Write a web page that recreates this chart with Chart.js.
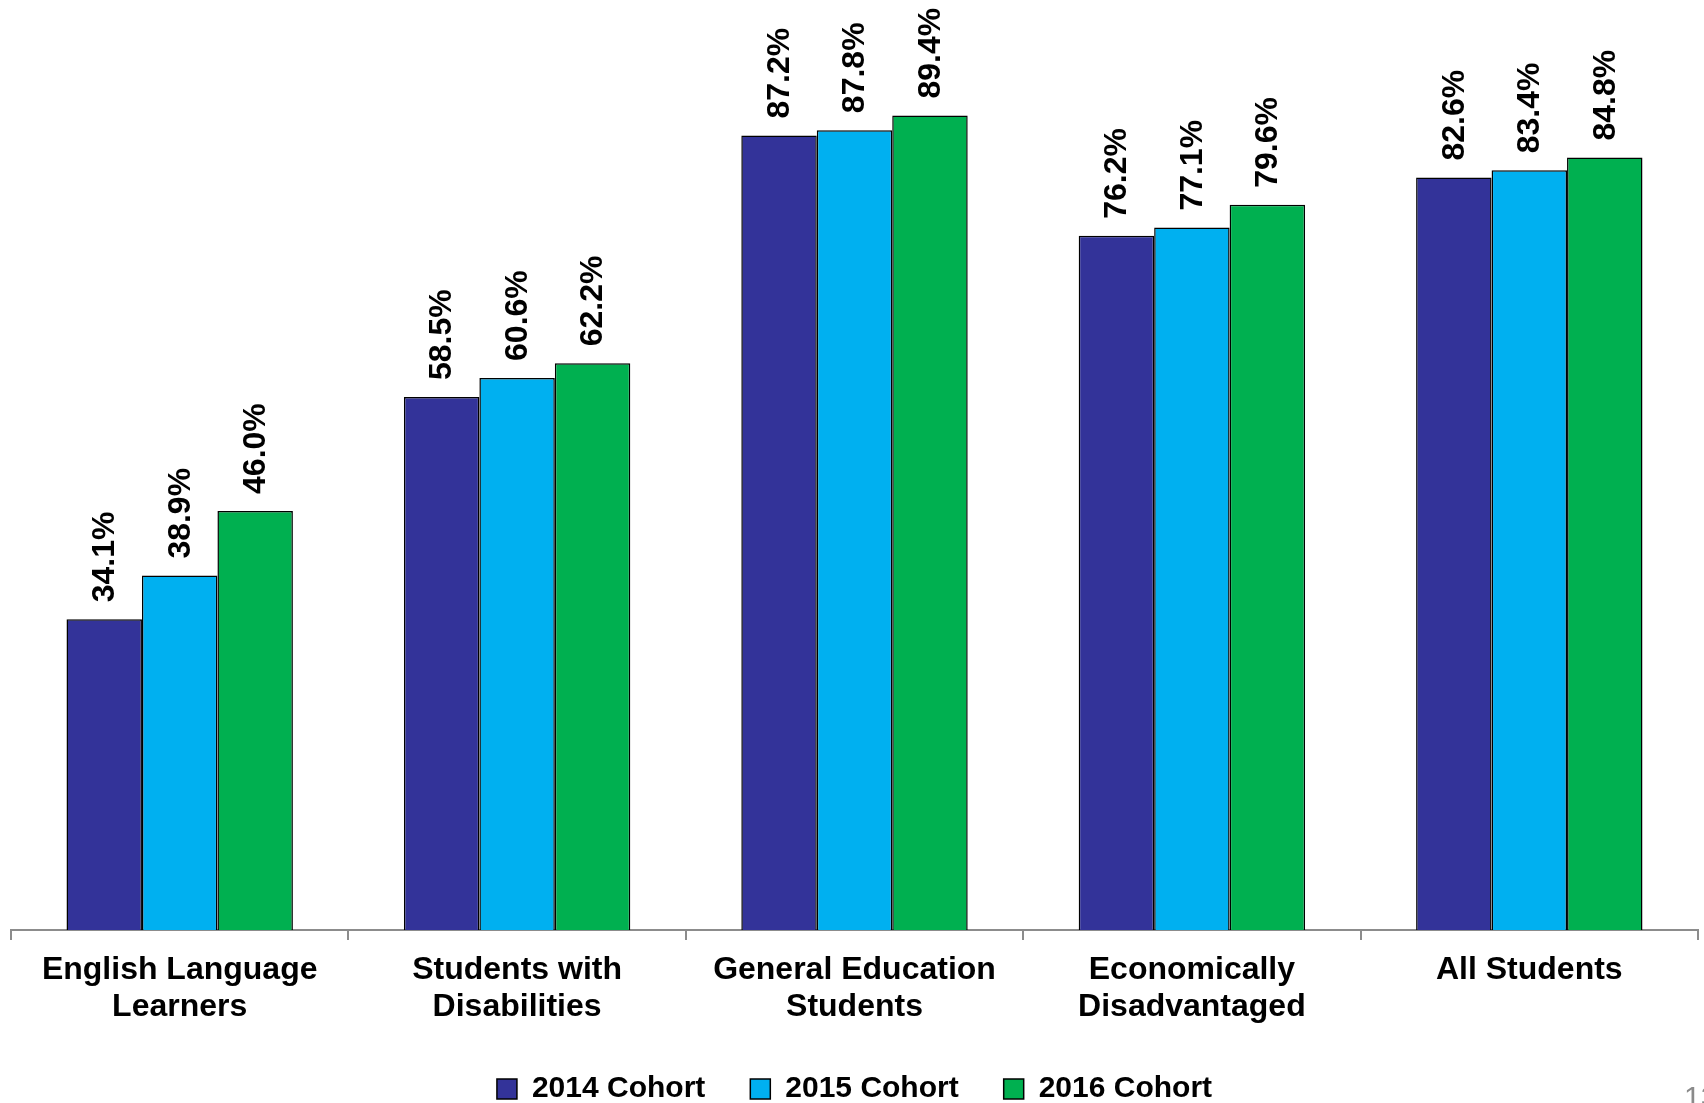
<!DOCTYPE html>
<html>
<head>
<meta charset="utf-8">
<script src="https://cdn.jsdelivr.net/npm/chart.js@4"></script>
<style>
  html, body { margin: 0; padding: 0; background: #fff; overflow: hidden; }
  #wrap { position: relative; width: 1704px; height: 1103px; overflow: hidden; }
  #pg { position: absolute; left: 1684px; top: 1080px; font: 30px 'Liberation Sans', Arial, sans-serif; color: #8a8a8a; }
</style>
</head>
<body>
<div id="wrap">
<canvas id="c" width="1704" height="1103"></canvas>
<div id="pg">13</div>
</div>
<script>
const categories = [
  ['English Language', 'Learners'],
  ['Students with', 'Disabilities'],
  ['General Education', 'Students'],
  ['Economically', 'Disadvantaged'],
  ['All Students']
];
const seriesNames = ['2014 Cohort', '2015 Cohort', '2016 Cohort'];
const cohort2014 = [34.1, 58.5, 87.2, 76.2, 82.6];
const cohort2015 = [38.9, 60.6, 87.8, 77.1, 83.4];
const cohort2016 = [46.0, 62.2, 89.4, 79.6, 84.8];
const seriesColors = ['#333399', '#00B0F0', '#00B050'];

const FONT = "'Liberation Sans', Arial, sans-serif";

const valueLabels = {
  id: 'valueLabels',
  afterDatasetsDraw(chart) {
    const ctx = chart.ctx;
    ctx.save();
    ctx.font = 'bold 32px ' + FONT;
    ctx.fillStyle = '#000';
    ctx.textAlign = 'left';
    ctx.textBaseline = 'middle';
    chart.data.datasets.forEach((ds, i) => {
      const meta = chart.getDatasetMeta(i);
      meta.data.forEach((bar, j) => {
        ctx.save();
        ctx.translate(bar.x + 1, bar.y - 17);
        ctx.rotate(-Math.PI / 2);
        ctx.fillText(ds.data[j].toFixed(1) + '%', 0, 0);
        ctx.restore();
      });
    });
    ctx.restore();
  }
};

const data = {
  labels: categories,
  datasets: [cohort2014, cohort2015, cohort2016].map((vals, i) => ({
    label: seriesNames[i],
    data: vals,
    backgroundColor: seriesColors[i],
    borderColor: '#000',
    borderWidth: 1.5,
    borderSkipped: 'bottom',
    categoryPercentage: 0.671,
    barPercentage: 1.0
  }))
};

new Chart(document.getElementById('c'), {
  type: 'bar',
  data: data,
  plugins: [valueLabels],
  options: {
    responsive: false,
    animation: false,
    devicePixelRatio: 1,
    layout: { padding: { left: 11, right: 6, top: 19, bottom: -11 } },
    scales: {
      y: { display: false, min: 0, max: 100 },
      x: {
        offset: true,
        grid: { offset: true, drawOnChartArea: false, drawTicks: true, tickLength: 10, color: '#8c8c8c', lineWidth: 2 },
        border: { display: true, color: '#8c8c8c', width: 2 },
        ticks: {
          color: '#000',
          padding: 12,
          maxRotation: 0,
          autoSkip: false,
          font: { family: FONT, size: 32, weight: 'bold', lineHeight: 1.15 }
        },
        afterFit: (s) => { s.height = 99; }
      }
    },
    plugins: {
      tooltip: { enabled: false },
      legend: {
        position: 'bottom',
        labels: {
          color: '#000',
          boxWidth: 20,
          boxHeight: 20,
          padding: 45,
          font: { family: FONT, size: 30, weight: 'bold' },
          generateLabels: (chart) => chart.data.datasets.map((ds, i) => ({
            text: ds.label,
            fillStyle: ds.backgroundColor,
            strokeStyle: '#000',
            lineWidth: 1.5,
            fontColor: '#000',
            datasetIndex: i,
            hidden: false
          }))
        }
      }
    }
  }
});
</script>
</body>
</html>
